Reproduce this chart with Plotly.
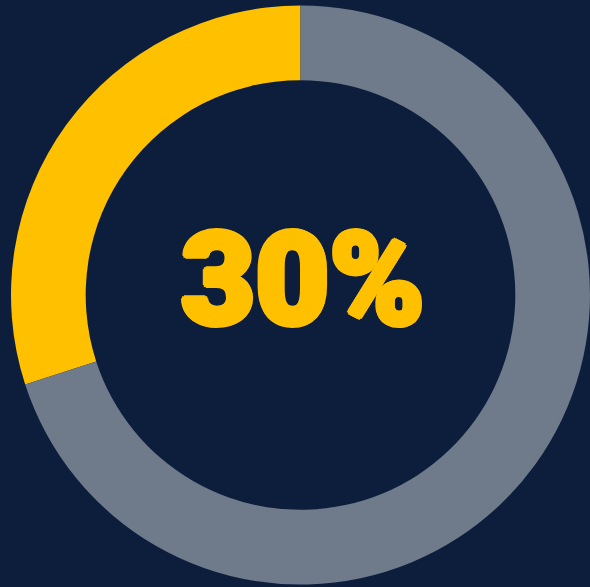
import plotly.graph_objects as go

labels = ["Achieved", "Remaining"]
values = [30, 70]
colors = ["#FFC000", "#6F7A8A"]
center_label = "30%"

fig = go.Figure()
fig.add_trace(go.Pie(
    labels=labels,
    values=values,
    hole=0.742,
    sort=False,
    direction="clockwise",
    rotation=-108,
    marker=dict(colors=colors, line=dict(width=0)),
    textinfo="none",
    hoverinfo="skip",
    showlegend=False,
    domain=dict(x=[11/590, 1.0], y=[2/587, 582/587]),
))
y = "#FFC000"
shadow = ", ".join(f"{dx}px {dy}px 0 {y}" for dx, dy in
                   [(2, 0), (-2, 0), (0, 2), (0, -2), (2, 2), (-2, -2), (2, -2), (-2, 2),
                    (3, 0), (-3, 0), (0, 3), (0, -3)])
fig.add_annotation(
    text=center_label, x=302/590, y=1 - 280/587, xref="paper", yref="paper",
    showarrow=False,
    font=dict(family="Roboto", size=128, color=y, weight=900, shadow=shadow),
)
fig.update_layout(
    width=590, height=587,
    margin=dict(l=0, r=0, t=0, b=0),
    paper_bgcolor="#0D1E3C",
    plot_bgcolor="#0D1E3C",
)
fig.write_html("out.html")
